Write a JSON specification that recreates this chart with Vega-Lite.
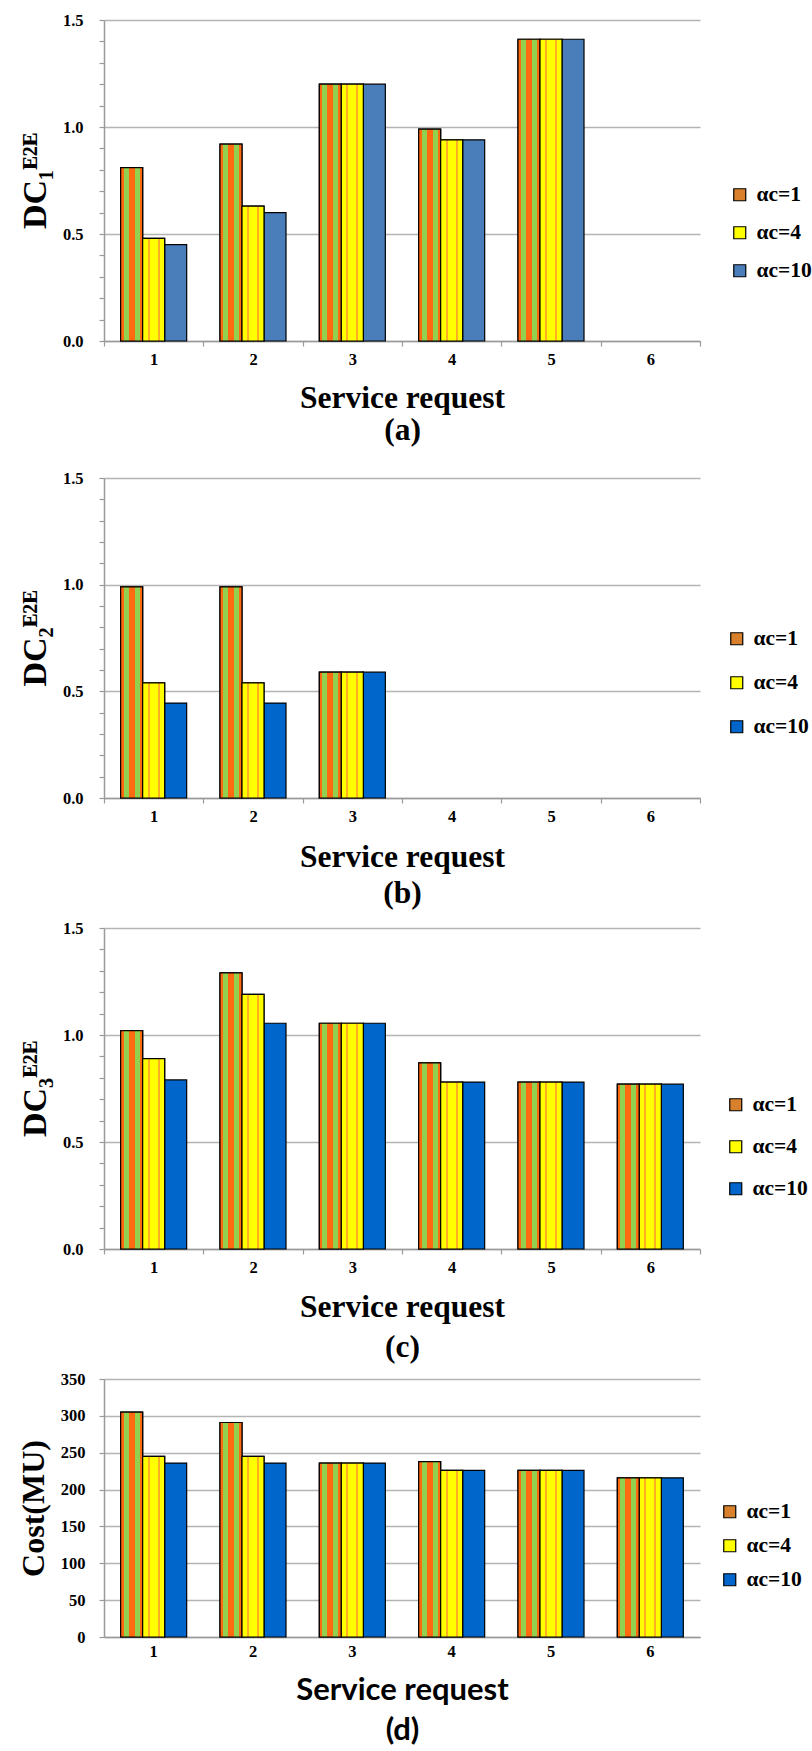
{
  "$schema": "https://vega.github.io/schema/vega-lite/v6.json",
  "autosize": {"type": "pad"},
  "padding": {"left": 17, "top": 12, "right": 0, "bottom": 0},
  "background": "white",
  "datasets": {
    "d": [
      {"panel": "a", "sr": "1", "ac": "αc=1", "value": 0.81},
      {"panel": "a", "sr": "1", "ac": "αc=4", "value": 0.48},
      {"panel": "a", "sr": "1", "ac": "αc=10", "value": 0.45},
      {"panel": "a", "sr": "2", "ac": "αc=1", "value": 0.92},
      {"panel": "a", "sr": "2", "ac": "αc=4", "value": 0.63},
      {"panel": "a", "sr": "2", "ac": "αc=10", "value": 0.60},
      {"panel": "a", "sr": "3", "ac": "αc=1", "value": 1.20},
      {"panel": "a", "sr": "3", "ac": "αc=4", "value": 1.20},
      {"panel": "a", "sr": "3", "ac": "αc=10", "value": 1.20},
      {"panel": "a", "sr": "4", "ac": "αc=1", "value": 0.99},
      {"panel": "a", "sr": "4", "ac": "αc=4", "value": 0.94},
      {"panel": "a", "sr": "4", "ac": "αc=10", "value": 0.94},
      {"panel": "a", "sr": "5", "ac": "αc=1", "value": 1.41},
      {"panel": "a", "sr": "5", "ac": "αc=4", "value": 1.41},
      {"panel": "a", "sr": "5", "ac": "αc=10", "value": 1.41},
      {"panel": "b", "sr": "1", "ac": "αc=1", "value": 0.99},
      {"panel": "b", "sr": "1", "ac": "αc=4", "value": 0.54},
      {"panel": "b", "sr": "1", "ac": "αc=10", "value": 0.445},
      {"panel": "b", "sr": "2", "ac": "αc=1", "value": 0.99},
      {"panel": "b", "sr": "2", "ac": "αc=4", "value": 0.54},
      {"panel": "b", "sr": "2", "ac": "αc=10", "value": 0.445},
      {"panel": "b", "sr": "3", "ac": "αc=1", "value": 0.59},
      {"panel": "b", "sr": "3", "ac": "αc=4", "value": 0.59},
      {"panel": "b", "sr": "3", "ac": "αc=10", "value": 0.59},
      {"panel": "c", "sr": "1", "ac": "αc=1", "value": 1.02},
      {"panel": "c", "sr": "1", "ac": "αc=4", "value": 0.89},
      {"panel": "c", "sr": "1", "ac": "αc=10", "value": 0.79},
      {"panel": "c", "sr": "2", "ac": "αc=1", "value": 1.29},
      {"panel": "c", "sr": "2", "ac": "αc=4", "value": 1.19},
      {"panel": "c", "sr": "2", "ac": "αc=10", "value": 1.055},
      {"panel": "c", "sr": "3", "ac": "αc=1", "value": 1.055},
      {"panel": "c", "sr": "3", "ac": "αc=4", "value": 1.055},
      {"panel": "c", "sr": "3", "ac": "αc=10", "value": 1.055},
      {"panel": "c", "sr": "4", "ac": "αc=1", "value": 0.87},
      {"panel": "c", "sr": "4", "ac": "αc=4", "value": 0.78},
      {"panel": "c", "sr": "4", "ac": "αc=10", "value": 0.78},
      {"panel": "c", "sr": "5", "ac": "αc=1", "value": 0.78},
      {"panel": "c", "sr": "5", "ac": "αc=4", "value": 0.78},
      {"panel": "c", "sr": "5", "ac": "αc=10", "value": 0.78},
      {"panel": "c", "sr": "6", "ac": "αc=1", "value": 0.77},
      {"panel": "c", "sr": "6", "ac": "αc=4", "value": 0.77},
      {"panel": "c", "sr": "6", "ac": "αc=10", "value": 0.77},
      {"panel": "d", "sr": "1", "ac": "αc=1", "value": 305},
      {"panel": "d", "sr": "1", "ac": "αc=4", "value": 245},
      {"panel": "d", "sr": "1", "ac": "αc=10", "value": 236},
      {"panel": "d", "sr": "2", "ac": "αc=1", "value": 291},
      {"panel": "d", "sr": "2", "ac": "αc=4", "value": 245},
      {"panel": "d", "sr": "2", "ac": "αc=10", "value": 236},
      {"panel": "d", "sr": "3", "ac": "αc=1", "value": 236},
      {"panel": "d", "sr": "3", "ac": "αc=4", "value": 236},
      {"panel": "d", "sr": "3", "ac": "αc=10", "value": 236},
      {"panel": "d", "sr": "4", "ac": "αc=1", "value": 238},
      {"panel": "d", "sr": "4", "ac": "αc=4", "value": 226},
      {"panel": "d", "sr": "4", "ac": "αc=10", "value": 226},
      {"panel": "d", "sr": "5", "ac": "αc=1", "value": 226},
      {"panel": "d", "sr": "5", "ac": "αc=4", "value": 226},
      {"panel": "d", "sr": "5", "ac": "αc=10", "value": 226},
      {"panel": "d", "sr": "6", "ac": "αc=1", "value": 216},
      {"panel": "d", "sr": "6", "ac": "αc=4", "value": 216},
      {"panel": "d", "sr": "6", "ac": "αc=10", "value": 216}
    ]
  },
  "config": {
    "view": {"stroke": null},
    "axis": {
      "labelFont": "Liberation Serif", "labelFontWeight": "bold", "labelFontSize": 16.5, "labelColor": "#000",
      "titleFont": "Liberation Serif", "titleFontWeight": "bold", "titleColor": "#000",
      "domainColor": "#9a9a9a", "tickColor": "#9a9a9a", "domainWidth": 1.5, "tickWidth": 1.2,
      "gridColor": "#b4b4b4", "gridWidth": 1.5
    },
    "legend": {
      "orient": "none", "direction": "vertical", "padding": 0,
      "labelFont": "Liberation Serif", "labelFontWeight": "bold", "labelFontSize": 21.5, "labelColor": "#000",
      "symbolType": "square", "symbolSize": 144, "symbolStrokeColor": "#000", "symbolStrokeWidth": 1.2,
      "labelOffset": 6
    }
  },
  "spacing": 137,
  "bounds": "flush",
  "resolve": {
    "scale": {"x": "independent", "y": "independent", "xOffset": "independent", "color": "independent"},
    "legend": {"color": "independent"},
    "axis": {"x": "independent", "y": "independent"}
  },
  "vconcat": [
    {
      "width": 596, "height": 321,
      "data": {"name": "d"},
      "transform": [{"filter": "datum.panel == 'a'"}],
      "encoding": {
        "x": {
          "field": "sr", "type": "nominal",
          "scale": {"domain": ["1", "2", "3", "4", "5", "6"], "paddingInner": 0, "paddingOuter": 0},
          "axis": {"title": ["Service request", "(a)"], "titleFontSize": 31.5, "titleLineHeight": 32, "titlePadding": 15, "labelAngle": 0, "labelPadding": 5, "tickSize": 5, "tickBand": "extent", "grid": false}
        },
        "xOffset": {"field": "ac", "type": "nominal", "scale": {"domain": ["αc=1", "αc=4", "αc=10"], "paddingInner": 0, "paddingOuter": 0.757}},
        "y": {
          "field": "value", "type": "quantitative",
          "scale": {"domain": [0, 1.5], "nice": false},
          "axis": {
            "title": "DC₁ᴱ²ᴱ", "titleFontSize": 34, "titlePadding": 10,
            "values": [0, 0.1, 0.2, 0.3, 0.4, 0.5, 0.6, 0.7, 0.8, 0.9, 1.0, 1.1, 1.2, 1.3, 1.4, 1.5],
            "labelExpr": "round(datum.value*10) % 5 == 0 ? format(datum.value, '.1f') : ''",
            "labelOverlap": false, "labelPadding": 16, "tickSize": 5,
            "gridOpacity": {"condition": {"test": "round(datum.value*10) % 5 == 0", "value": 1}, "value": 0}
          }
        }
      },
      "layer": [
        {
          "mark": {"type": "bar", "stroke": "#000", "strokeWidth": 1.2},
          "encoding": {
            "color": {
              "field": "ac", "type": "nominal",
              "scale": {"domain": ["αc=1", "αc=4", "αc=10"], "range": ["#d9802c", "#ffff00", "#4a7ebb"]},
              "legend": {"title": null, "legendX": 625, "legendY": 164, "rowPadding": 15, "labelFont": "Liberation Serif", "labelFontWeight": "bold", "labelFontSize": 21.5}
            }
          }
        },
        {
          "transform": [{"filter": "datum.ac == 'αc=1'"}],
          "mark": {"type": "bar", "stroke": "#000", "strokeWidth": 1.2, "fill": {"gradient": "linear", "x1": 0, "y1": 0, "x2": 1, "y2": 0, "stops": [
            {"offset": 0, "color": "#ff6a10"}, {"offset": 0.13, "color": "#ff6a10"},
            {"offset": 0.13, "color": "#92d050"}, {"offset": 0.37, "color": "#92d050"},
            {"offset": 0.37, "color": "#ff6a10"}, {"offset": 0.63, "color": "#ff6a10"},
            {"offset": 0.63, "color": "#92d050"}, {"offset": 0.87, "color": "#92d050"},
            {"offset": 0.87, "color": "#ff6a10"}, {"offset": 1, "color": "#ff6a10"}]}}
        },
        {
          "transform": [{"filter": "datum.ac == 'αc=4'"}],
          "mark": {"type": "bar", "stroke": "#000", "strokeWidth": 1.2, "fill": {"gradient": "linear", "x1": 0, "y1": 0, "x2": 1, "y2": 0, "stops": [
            {"offset": 0, "color": "#ffff00"}, {"offset": 0.22, "color": "#ffff00"},
            {"offset": 0.22, "color": "#ffb020"}, {"offset": 0.32, "color": "#ffb020"},
            {"offset": 0.32, "color": "#ffff00"}, {"offset": 0.68, "color": "#ffff00"},
            {"offset": 0.68, "color": "#ffb020"}, {"offset": 0.78, "color": "#ffb020"},
            {"offset": 0.78, "color": "#ffff00"}, {"offset": 1, "color": "#ffff00"}]}}
        }
      ]
    },
    {
      "spacing": 130,
      "bounds": "flush",
      "resolve": {
        "scale": {"x": "independent", "y": "independent", "xOffset": "independent", "color": "independent"},
        "legend": {"color": "independent"},
        "axis": {"x": "independent", "y": "independent"}
      },
      "vconcat": [
        {
          "width": 596, "height": 320,
          "data": {"name": "d"},
          "transform": [{"filter": "datum.panel == 'b'"}],
          "encoding": {
            "x": {
              "field": "sr", "type": "nominal",
              "scale": {"domain": ["1", "2", "3", "4", "5", "6"], "paddingInner": 0, "paddingOuter": 0},
              "axis": {"title": ["Service request", "(b)"], "titleFontSize": 31.5, "titleLineHeight": 36, "titlePadding": 17, "labelAngle": 0, "labelPadding": 5, "tickSize": 5, "tickBand": "extent", "grid": false}
            },
            "xOffset": {"field": "ac", "type": "nominal", "scale": {"domain": ["αc=1", "αc=4", "αc=10"], "paddingInner": 0, "paddingOuter": 0.757}},
            "y": {
              "field": "value", "type": "quantitative",
              "scale": {"domain": [0, 1.5], "nice": false},
              "axis": {
                "title": "DC₂ᴱ²ᴱ", "titleFontSize": 34, "titlePadding": 10,
                "values": [0, 0.1, 0.2, 0.3, 0.4, 0.5, 0.6, 0.7, 0.8, 0.9, 1.0, 1.1, 1.2, 1.3, 1.4, 1.5],
                "labelExpr": "round(datum.value*10) % 5 == 0 ? format(datum.value, '.1f') : ''",
                "labelOverlap": false, "labelPadding": 16, "tickSize": 5,
                "gridOpacity": {"condition": {"test": "round(datum.value*10) % 5 == 0", "value": 1}, "value": 0}
              }
            }
          },
          "layer": [
            {
              "mark": {"type": "bar", "stroke": "#000", "strokeWidth": 1.2},
              "encoding": {
                "color": {
                  "field": "ac", "type": "nominal",
                  "scale": {"domain": ["αc=1", "αc=4", "αc=10"], "range": ["#d9802c", "#ffff00", "#0066cc"]},
                  "legend": {"title": null, "legendX": 622, "legendY": 150, "rowPadding": 21, "labelFont": "Liberation Serif", "labelFontWeight": "bold", "labelFontSize": 21.5}
                }
              }
            },
            {
              "transform": [{"filter": "datum.ac == 'αc=1'"}],
              "mark": {"type": "bar", "stroke": "#000", "strokeWidth": 1.2, "fill": {"gradient": "linear", "x1": 0, "y1": 0, "x2": 1, "y2": 0, "stops": [
                {"offset": 0, "color": "#ff6a10"}, {"offset": 0.13, "color": "#ff6a10"},
                {"offset": 0.13, "color": "#92d050"}, {"offset": 0.37, "color": "#92d050"},
                {"offset": 0.37, "color": "#ff6a10"}, {"offset": 0.63, "color": "#ff6a10"},
                {"offset": 0.63, "color": "#92d050"}, {"offset": 0.87, "color": "#92d050"},
                {"offset": 0.87, "color": "#ff6a10"}, {"offset": 1, "color": "#ff6a10"}]}}
            },
            {
              "transform": [{"filter": "datum.ac == 'αc=4'"}],
              "mark": {"type": "bar", "stroke": "#000", "strokeWidth": 1.2, "fill": {"gradient": "linear", "x1": 0, "y1": 0, "x2": 1, "y2": 0, "stops": [
                {"offset": 0, "color": "#ffff00"}, {"offset": 0.22, "color": "#ffff00"},
                {"offset": 0.22, "color": "#ffb020"}, {"offset": 0.32, "color": "#ffb020"},
                {"offset": 0.32, "color": "#ffff00"}, {"offset": 0.68, "color": "#ffff00"},
                {"offset": 0.68, "color": "#ffb020"}, {"offset": 0.78, "color": "#ffb020"},
                {"offset": 0.78, "color": "#ffff00"}, {"offset": 1, "color": "#ffff00"}]}}
            }
          ]
        },
        {
          "width": 596, "height": 321,
          "data": {"name": "d"},
          "transform": [{"filter": "datum.panel == 'c'"}],
          "encoding": {
            "x": {
              "field": "sr", "type": "nominal",
              "scale": {"domain": ["1", "2", "3", "4", "5", "6"], "paddingInner": 0, "paddingOuter": 0},
              "axis": {"title": ["Service request", "(c)"], "titleFontSize": 31.5, "titleLineHeight": 40, "titlePadding": 16, "labelAngle": 0, "labelPadding": 5, "tickSize": 5, "tickBand": "extent", "grid": false}
            },
            "xOffset": {"field": "ac", "type": "nominal", "scale": {"domain": ["αc=1", "αc=4", "αc=10"], "paddingInner": 0, "paddingOuter": 0.757}},
            "y": {
              "field": "value", "type": "quantitative",
              "scale": {"domain": [0, 1.5], "nice": false},
              "axis": {
                "title": "DC₃ᴱ²ᴱ", "titleFontSize": 34, "titlePadding": 10,
                "values": [0, 0.1, 0.2, 0.3, 0.4, 0.5, 0.6, 0.7, 0.8, 0.9, 1.0, 1.1, 1.2, 1.3, 1.4, 1.5],
                "labelExpr": "round(datum.value*10) % 5 == 0 ? format(datum.value, '.1f') : ''",
                "labelOverlap": false, "labelPadding": 16, "tickSize": 5,
                "gridOpacity": {"condition": {"test": "round(datum.value*10) % 5 == 0", "value": 1}, "value": 0}
              }
            }
          },
          "layer": [
            {
              "mark": {"type": "bar", "stroke": "#000", "strokeWidth": 1.2},
              "encoding": {
                "color": {
                  "field": "ac", "type": "nominal",
                  "scale": {"domain": ["αc=1", "αc=4", "αc=10"], "range": ["#d9802c", "#ffff00", "#0066cc"]},
                  "legend": {"title": null, "legendX": 621, "legendY": 166, "rowPadding": 19, "labelFont": "Liberation Serif", "labelFontWeight": "bold", "labelFontSize": 21.5}
                }
              }
            },
            {
              "transform": [{"filter": "datum.ac == 'αc=1'"}],
              "mark": {"type": "bar", "stroke": "#000", "strokeWidth": 1.2, "fill": {"gradient": "linear", "x1": 0, "y1": 0, "x2": 1, "y2": 0, "stops": [
                {"offset": 0, "color": "#ff6a10"}, {"offset": 0.13, "color": "#ff6a10"},
                {"offset": 0.13, "color": "#92d050"}, {"offset": 0.37, "color": "#92d050"},
                {"offset": 0.37, "color": "#ff6a10"}, {"offset": 0.63, "color": "#ff6a10"},
                {"offset": 0.63, "color": "#92d050"}, {"offset": 0.87, "color": "#92d050"},
                {"offset": 0.87, "color": "#ff6a10"}, {"offset": 1, "color": "#ff6a10"}]}}
            },
            {
              "transform": [{"filter": "datum.ac == 'αc=4'"}],
              "mark": {"type": "bar", "stroke": "#000", "strokeWidth": 1.2, "fill": {"gradient": "linear", "x1": 0, "y1": 0, "x2": 1, "y2": 0, "stops": [
                {"offset": 0, "color": "#ffff00"}, {"offset": 0.22, "color": "#ffff00"},
                {"offset": 0.22, "color": "#ffb020"}, {"offset": 0.32, "color": "#ffb020"},
                {"offset": 0.32, "color": "#ffff00"}, {"offset": 0.68, "color": "#ffff00"},
                {"offset": 0.68, "color": "#ffb020"}, {"offset": 0.78, "color": "#ffb020"},
                {"offset": 0.78, "color": "#ffff00"}, {"offset": 1, "color": "#ffff00"}]}}
            }
          ]
        },
        {
          "width": 596, "height": 258,
          "data": {"name": "d"},
          "transform": [{"filter": "datum.panel == 'd'"}],
          "encoding": {
            "x": {
              "field": "sr", "type": "nominal",
              "scale": {"domain": ["1", "2", "3", "4", "5", "6"], "paddingInner": 0, "paddingOuter": 0},
              "axis": {"title": ["Service request", "(d)"], "titleFont": "Lato", "titleFontSize": 31, "titleLineHeight": 40, "titlePadding": 16, "labelAngle": 0, "labelPadding": 6, "tickSize": 0, "grid": false}
            },
            "xOffset": {"field": "ac", "type": "nominal", "scale": {"domain": ["αc=1", "αc=4", "αc=10"], "paddingInner": 0, "paddingOuter": 0.757}},
            "y": {
              "field": "value", "type": "quantitative",
              "scale": {"domain": [0, 350], "nice": false},
              "axis": {
                "title": "Cost(MU)", "titleFontSize": 32, "titlePadding": 10,
                "values": [0, 50, 100, 150, 200, 250, 300, 350],
                "labelPadding": 14, "tickSize": 5
              }
            }
          },
          "layer": [
            {
              "mark": {"type": "bar", "stroke": "#000", "strokeWidth": 1.2},
              "encoding": {
                "color": {
                  "field": "ac", "type": "nominal",
                  "scale": {"domain": ["αc=1", "αc=4", "αc=10"], "range": ["#d9802c", "#ffff00", "#0066cc"]},
                  "legend": {"title": null, "legendX": 615, "legendY": 122, "rowPadding": 11, "labelFont": "Liberation Serif", "labelFontWeight": "bold", "labelFontSize": 21.5}
                }
              }
            },
            {
              "transform": [{"filter": "datum.ac == 'αc=1'"}],
              "mark": {"type": "bar", "stroke": "#000", "strokeWidth": 1.2, "fill": {"gradient": "linear", "x1": 0, "y1": 0, "x2": 1, "y2": 0, "stops": [
                {"offset": 0, "color": "#ff6a10"}, {"offset": 0.13, "color": "#ff6a10"},
                {"offset": 0.13, "color": "#92d050"}, {"offset": 0.37, "color": "#92d050"},
                {"offset": 0.37, "color": "#ff6a10"}, {"offset": 0.63, "color": "#ff6a10"},
                {"offset": 0.63, "color": "#92d050"}, {"offset": 0.87, "color": "#92d050"},
                {"offset": 0.87, "color": "#ff6a10"}, {"offset": 1, "color": "#ff6a10"}]}}
            },
            {
              "transform": [{"filter": "datum.ac == 'αc=4'"}],
              "mark": {"type": "bar", "stroke": "#000", "strokeWidth": 1.2, "fill": {"gradient": "linear", "x1": 0, "y1": 0, "x2": 1, "y2": 0, "stops": [
                {"offset": 0, "color": "#ffff00"}, {"offset": 0.22, "color": "#ffff00"},
                {"offset": 0.22, "color": "#ffb020"}, {"offset": 0.32, "color": "#ffb020"},
                {"offset": 0.32, "color": "#ffff00"}, {"offset": 0.68, "color": "#ffff00"},
                {"offset": 0.68, "color": "#ffb020"}, {"offset": 0.78, "color": "#ffb020"},
                {"offset": 0.78, "color": "#ffff00"}, {"offset": 1, "color": "#ffff00"}]}}
            }
          ]
        }
      ]
    }
  ]
}
